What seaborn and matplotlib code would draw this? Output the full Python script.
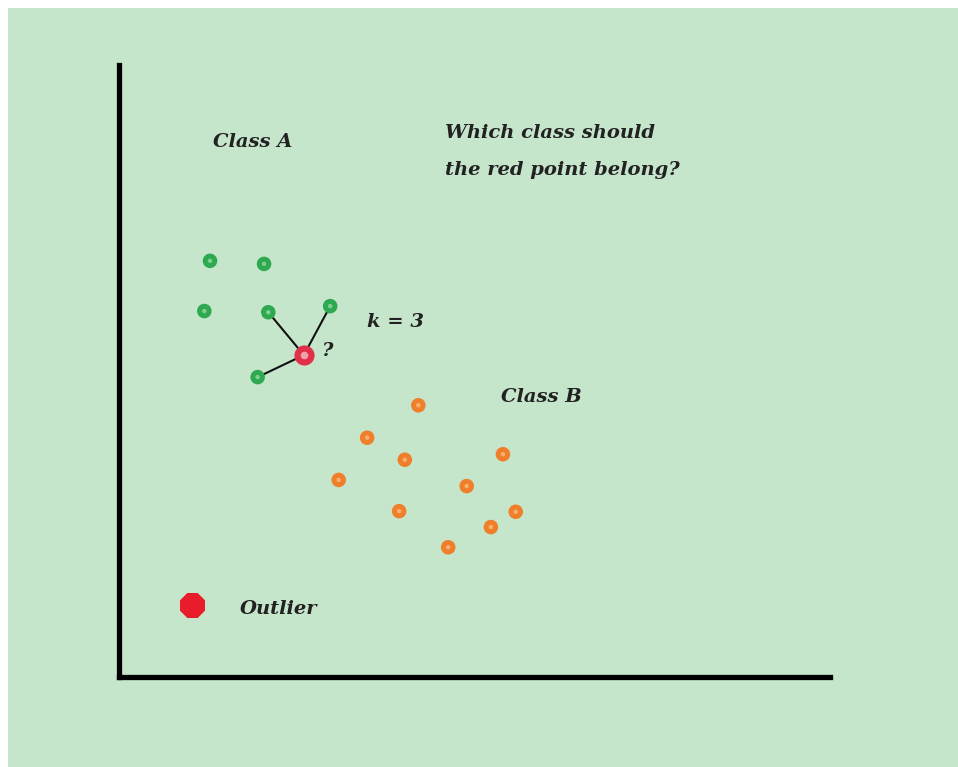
import matplotlib
matplotlib.use('Agg')
import matplotlib.pyplot as plt
import seaborn as sns
import pandas as pd
from matplotlib.patches import Rectangle

# feature values (axis units 0-10)
class_a_x = [1.28, 2.04, 1.20, 2.10, 2.97, 1.95]
class_a_y = [6.80, 6.75, 5.98, 5.96, 6.06, 4.90]
class_b_x = [4.21, 3.49, 4.02, 5.40, 3.09, 4.89, 3.94, 5.23, 5.58, 4.63]
class_b_y = [4.44, 3.91, 3.55, 3.64, 3.22, 3.12, 2.71, 2.45, 2.70, 2.12]
query_xy = (2.60, 5.26)
outlier_xy = (1.03, 1.18)
k = 3
nearest = [3, 4, 5]  # indices into class A

bg = '#c6e6cc'
green = '#2fa94f'
orange = '#f07f2c'
red = '#e0304a'

df = pd.DataFrame({
    'x': class_a_x + class_b_x,
    'y': class_a_y + class_b_y,
    'cls': ['A'] * len(class_a_x) + ['B'] * len(class_b_x),
})

sns.set_style('white')
fig = plt.figure(figsize=(9.58, 7.67), dpi=100, facecolor='white')
fig.patches.append(Rectangle((8 / 958, 0), 1, 1 - 8 / 767, transform=fig.transFigure,
                             facecolor=bg, edgecolor='none', zorder=-10))
ax = fig.add_axes([119 / 958, 90 / 767, 711 / 958, 612 / 767])
ax.set_facecolor('none')
ax.set_xlim(0, 10)
ax.set_ylim(0, 10)

# neighbour links
for i in nearest:
    ax.plot([query_xy[0], class_a_x[i]], [query_xy[1], class_a_y[i]],
            color='#111111', lw=1.5, zorder=1)

sns.scatterplot(data=df, x='x', y='y', hue='cls', palette={'A': green, 'B': orange},
                s=110, marker='o', linewidth=0, legend=False, ax=ax, zorder=2)
# small lighter centres to make rings
ax.scatter(df['x'], df['y'], s=10, c=['#7fcf8f' if c == 'A' else '#f8b070' for c in df['cls']],
           linewidths=0, zorder=3)
ax.scatter([query_xy[0]], [query_xy[1]], s=210, c=red, linewidths=0, zorder=4)
ax.scatter([query_xy[0]], [query_xy[1]], s=30, c='#f0a0a8', linewidths=0, zorder=5)
ax.scatter([outlier_xy[0]], [outlier_xy[1]], s=380, c='#e81c2a', marker='8', linewidths=0, zorder=4)

font = dict(family='DejaVu Serif', style='italic', weight='bold', color='#222222', fontsize=14)
ax.text(1.88, 8.74, 'Class A', ha='center', va='center', **font)
ax.text(4.59, 8.89, 'Which class should', ha='left', va='center', **font)
ax.text(4.59, 8.28, 'the red point belong?', ha='left', va='center', **font)
ax.text(3.49, 5.80, f'k = {k}', ha='left', va='center', **font)
ax.text(2.86, 5.33, '?', ha='left', va='center', **font)
ax.text(5.37, 4.58, 'Class B', ha='left', va='center', **font)
ax.text(1.70, 1.11, 'Outlier', ha='left', va='center', **font)

ax.set_xticks([])
ax.set_yticks([])
ax.set_xlabel('')
ax.set_ylabel('')
for side in ['top', 'right']:
    ax.spines[side].set_visible(False)
for side in ['left', 'bottom']:
    ax.spines[side].set_color('black')
    ax.spines[side].set_linewidth(3.8)
    ax.spines[side].set_capstyle('projecting')

fig.savefig('out.png', dpi=100, facecolor=fig.get_facecolor())
